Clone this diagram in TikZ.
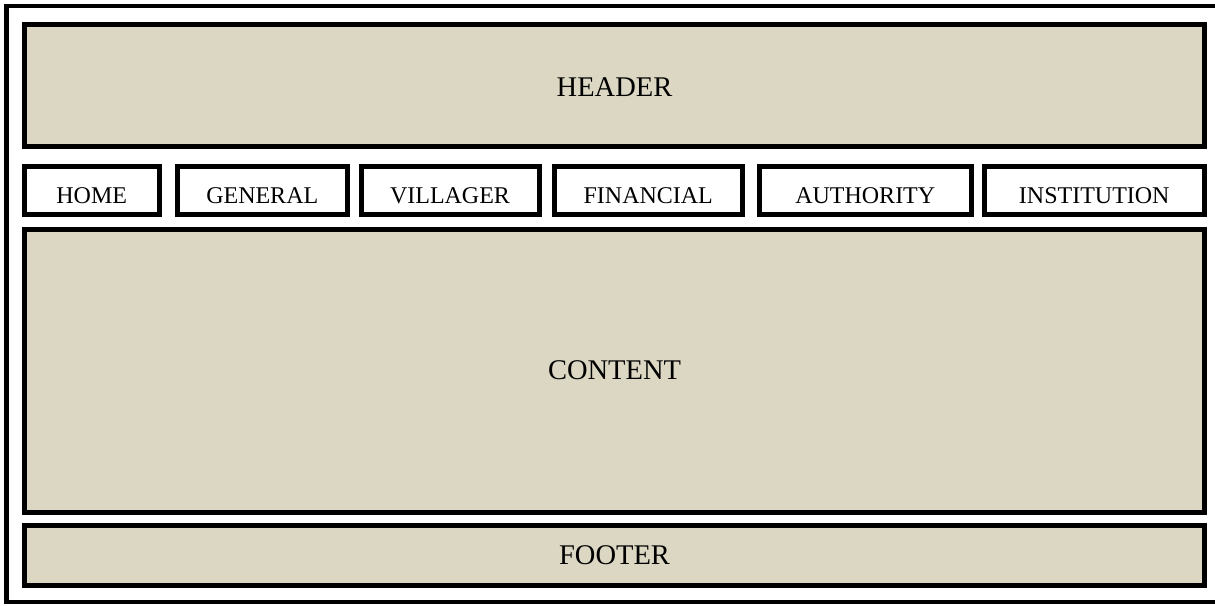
\documentclass[tikz,border=0pt]{standalone}
\usepackage{fontspec}
\setmainfont{Liberation Serif}
\definecolor{panel}{HTML}{DCD7C3}
\tikzset{
  panelbox/.style={draw=black, line width=5pt, fill=panel, inner sep=0pt, font=\fontsize{28.5}{30}\selectfont},
  navbox/.style={draw=black, line width=5pt, fill=white, inner sep=0pt, text height=25pt, text depth=0pt, font=\fontsize{24}{26}\selectfont},
}
\begin{document}
\begin{tikzpicture}[x=1pt,y=-1pt]
\useasboundingbox (0,0) rectangle (1215,605);
\begin{scope}
\clip (0,0) rectangle (1215,605);
\node[draw=black, line width=4.5pt, inner sep=0pt, minimum width=1211.5pt, minimum height=596pt] (frame) at (612.25,304) {};
\end{scope}
\node[panelbox, minimum width=1180pt, minimum height=121.5pt, text height=22pt, text depth=0pt] (header) at (614.5,85.25) {HEADER};
\node[navbox, minimum width=134.5pt, minimum height=48pt] (home) at (91.75,190.5) {HOME};
\node[navbox, minimum width=170.5pt, minimum height=48pt] (general) at (262.25,190.5) {GENERAL};
\node[navbox, minimum width=178pt, minimum height=48pt] (villager) at (450,190.5) {VILLAGER};
\node[navbox, minimum width=188.5pt, minimum height=48pt] (financial) at (648.25,190.5) {FINANCIAL};
\node[navbox, minimum width=212.5pt, minimum height=48pt] (authority) at (865.25,190.5) {AUTHORITY};
\node[navbox, minimum width=220.5pt, minimum height=48pt] (institution) at (1094.25,190.5) {INSTITUTION};
\node[panelbox, minimum width=1180pt, minimum height=283pt] (content) at (614.5,370.5) {CONTENT};
\node[panelbox, minimum width=1180pt, minimum height=59.5pt] (footer) at (614.5,555.25) {FOOTER};
\end{tikzpicture}
\end{document}
